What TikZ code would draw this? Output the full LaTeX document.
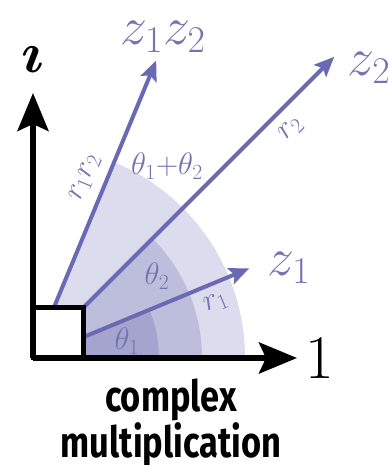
\RequirePackage{fix-cm}
\documentclass[tikz,border=0pt]{standalone}
\usepackage{fontspec}
\newfontfamily\capfont[FakeStretch=0.8]{Fira Sans}
\usepackage{tikz}
\usetikzlibrary{arrows.meta,positioning}
\definecolor{cVec}{HTML}{6A6AB4}
\definecolor{cText}{HTML}{7474B2}
\definecolor{cSecL}{HTML}{DCDCEE}
\definecolor{cSecM}{HTML}{BDBDDC}
\definecolor{cSecD}{HTML}{A4A4CE}
\tikzset{
  vec/.style    = {cVec, line width=4pt, -{Stealth[length=20pt,width=17pt,inset=4pt]}},
  axis/.style   = {black, line width=5.5pt, -{Stealth[length=38pt,width=31pt,inset=7pt]}},
  unitbox/.style= {draw=black, fill=white, line width=5pt, minimum size=50pt, inner sep=0pt},
  lbl/.style    = {text=cText, inner sep=0pt},
  big/.style    = {lbl, font=\fontsize{54}{54}\selectfont},
  small/.style  = {lbl, font=\fontsize{31}{31}\selectfont},
  caption/.style= {inner sep=0pt, align=center, anchor=north,
                   font=\capfont\bfseries\fontsize{43}{39}\selectfont},
}
\begin{document}
\begin{tikzpicture}[x=1pt,y=1pt]
  \useasboundingbox (-33,-107) rectangle (355,358);
  \coordinate (O) at (0,0);
  % angle sectors
  \fill[cSecL] (O) -- (0:212) arc[start angle=0, end angle=67.5, radius=212] -- cycle;
  \fill[cSecM] (O) -- (0:169) arc[start angle=0, end angle=45, radius=169] -- cycle;
  \fill[cSecD] (O) -- (0:126) arc[start angle=0, end angle=22.5, radius=126] -- cycle;
  % vectors
  \coordinate (z1) at (22.5:234);
  \coordinate (z2) at (45:426);
  \coordinate (z12) at (67.5:322);
  \draw[vec] (O) -- (z1);
  \draw[vec] (O) -- (z2);
  \draw[vec] (O) -- (z12);
  % unit box and axes
  \node[unitbox] (box) at (25,25) {};
  \coordinate (reTip) at (264,0);
  \coordinate (imTip) at (0,265);
  \draw[axis] (O) -- (reTip);
  \draw[axis] (O) -- (imTip);
  \node[inner sep=0pt, font=\fontsize{62}{62}\selectfont] (one) at (287,0) {1};
  \node[inner sep=0pt, font=\fontsize{58}{58}\selectfont\boldmath] (iota) at (0,298) {$\imath$};
  % vector labels
  \node[big] (lz1) at (256,90) {$z_1$};
  \node[big] (lz2) at (336,290) {$z_2$};
  \node[big] (lz12) at (130,321) {$z_1z_2$};
  \node[small, rotate=22.5] (lr1) at (183,55) {$r_1$};
  \node[small, rotate=45] (lr2) at (258,229) {$r_2$};
  \node[small, rotate=67.5] (lr12) at (52,180) {$r_1r_2$};
  % angle labels
  \node[small] (th1) at (94,17) {$\theta_1$};
  \node[small] (th2) at (124,82) {$\theta_2$};
  \node[small] (th12) at (134,192) {$\theta_1{+}\theta_2$};
  % caption
  \node[caption] (cap) at (138,-21) {complex\\multiplication};
\end{tikzpicture}
\end{document}
